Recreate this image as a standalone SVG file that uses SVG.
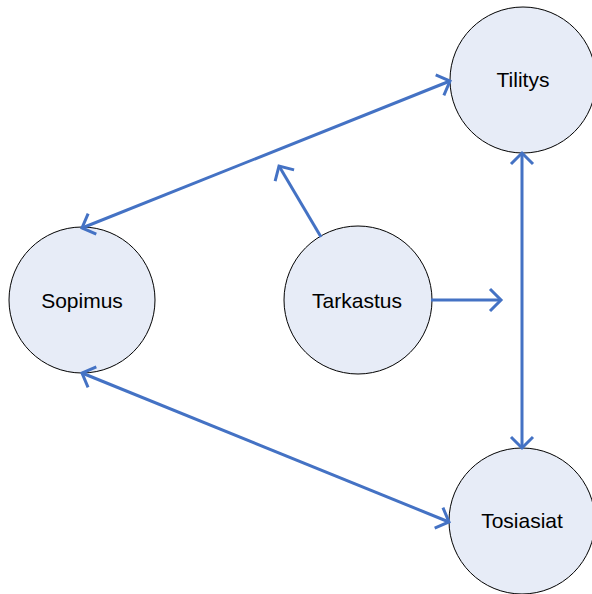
<svg xmlns="http://www.w3.org/2000/svg" width="592" height="594" viewBox="0 0 592 594">
<defs>
<style>
.node circle{fill:#E7ECF7;stroke:#000;stroke-width:1}
.node text{font-family:"Liberation Sans",Arial,sans-serif;font-size:21px;fill:#000;text-anchor:middle;dominant-baseline:central}
.conn line{stroke:#4472C4;stroke-width:3;fill:none}
</style>
<marker id="ah" viewBox="0 0 16 26" refX="13" refY="13" markerWidth="16" markerHeight="26" markerUnits="userSpaceOnUse" orient="auto-start-reverse">
<path d="M2,2 L13,13 L2,24" fill="none" stroke="#4472C4" stroke-width="3" stroke-linejoin="miter"/>
</marker>
</defs>
<rect width="592" height="594" fill="#fff"/>
<g id="tilitys" class="node"><circle cx="523" cy="80" r="73"/><text x="523" y="79">Tilitys</text></g>
<g id="sopimus" class="node"><circle cx="82" cy="300" r="73"/><text x="82" y="300">Sopimus</text></g>
<g id="tarkastus" class="node"><circle cx="358" cy="300" r="74"/><text x="357" y="300">Tarkastus</text></g>
<g id="tosiasiat" class="node"><circle cx="522" cy="521" r="73"/><text x="522" y="520">Tosiasiat</text></g>
<g id="connectors" class="conn">
<line x1="450" y1="81" x2="82" y2="228" marker-start="url(#ah)" marker-end="url(#ah)"/>
<line x1="522" y1="153" x2="522" y2="448" marker-start="url(#ah)" marker-end="url(#ah)"/>
<line x1="82" y1="373" x2="449" y2="522" marker-start="url(#ah)" marker-end="url(#ah)"/>
<line x1="321" y1="237" x2="279" y2="166" marker-end="url(#ah)"/>
<line x1="431" y1="300" x2="501" y2="300" marker-end="url(#ah)"/>
</g>
</svg>
